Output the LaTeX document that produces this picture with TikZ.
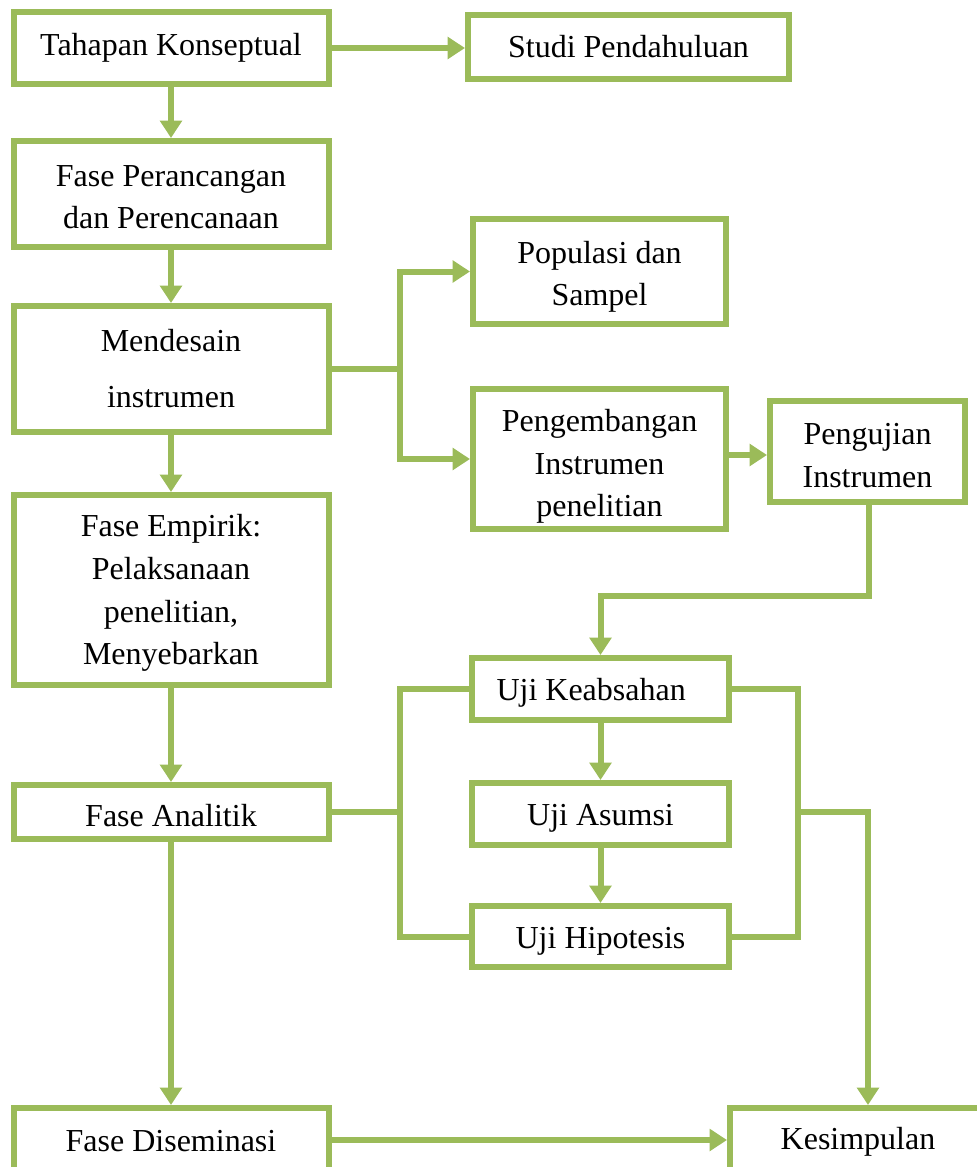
\documentclass[tikz,border=0pt]{standalone}
\usepackage{fontspec}
\setmainfont{Liberation Serif}
\usetikzlibrary{arrows.meta}
\definecolor{leaf}{HTML}{9BBB59}
\begin{document}
\begin{tikzpicture}[x=0.75pt,y=-0.75pt,
  box/.style={draw=leaf, line width=4.5pt, fill=white, inner sep=0pt},
  txt/.style={align=center, inner sep=0pt, font=\fontsize{24}{32}\selectfont, text=black},
  sz/.style 2 args={minimum width=#1*0.75pt, minimum height=#2*0.75pt},
  link/.style={draw=leaf, line width=4.5pt},
  arr/.style={link, -{Triangle[length=13pt,width=16pt]}}]
\useasboundingbox (0,0) rectangle (977,1167);
% left column
\node[box,sz={315}{72}]  (tahap)  at (171,48)    {};
\node[box,sz={315}{106}] (peranc) at (171,194)   {};
\node[box,sz={315}{126}] (mendes) at (171,369)   {};
\node[box,sz={315}{190}] (empir)  at (171,590)   {};
\node[box,sz={315}{54}]  (analit) at (171,812)   {};
\node[box,sz={315}{64}]  (disem)  at (171,1140)  {};
% right part
\node[box,sz={321}{64}]  (studi)  at (628.5,47)  {};
\node[box,sz={253}{105}] (popul)  at (599.5,271.5) {};
\node[box,sz={253}{140}] (pengem) at (599.5,459) {};
\node[box,sz={195}{101}] (penguj) at (867.5,451.5) {};
\node[box,sz={257}{62}]  (keab)   at (600.5,689) {};
\node[box,sz={257}{62}]  (asum)   at (600.5,814) {};
\node[box,sz={257}{61}]  (hipo)   at (600.5,936.5) {};
\node[box,sz={256}{64}]  (kesimp) at (858,1140)  {};
% texts
\node[txt] (tahapT)  at ([yshift=0pt]tahap.center)   {Tahapan Konseptual};
\node[txt] (perancT) at ([yshift=-2.5pt]peranc.center) {Fase Perancangan\\dan Perencanaan};
\node[txt] (mendesT) at ([yshift=0pt]mendes.center)  {Mendesain\\[10pt]instrumen};
\node[txt] (empirT)  at ([yshift=-2.5pt]empir.center) {Fase Empirik:\\Pelaksanaan\\penelitian,\\Menyebarkan};
\node[txt] (analitT) at ([yshift=-2.5pt]analit.center) {Fase Analitik};
\node[txt] (disemT)  at ([yshift=-1pt]disem.center)  {Fase Diseminasi};
\node[txt] (studiT)  at ([yshift=0pt]studi.center)   {Studi Pendahuluan};
\node[txt] (populT)  at ([yshift=-4pt]popul.center)  {Populasi dan\\Sampel};
\node[txt] (pengemT) at ([yshift=-5.5pt]pengem.center) {Pengembangan\\Instrumen\\penelitian};
\node[txt] (pengujT) at ([yshift=-3pt]penguj.center) {Pengujian\\Instrumen};
\node[txt] (keabT)   at ([xshift=-7pt,yshift=-3pt]keab.center) {Uji Keabsahan};
\node[txt] (asumT)   at ([yshift=-3.5pt]asum.center) {Uji Asumsi};
\node[txt] (hipoT)   at ([yshift=-3.5pt]hipo.center) {Uji Hipotesis};
\node[txt] (kesimpT) at ([yshift=-1.5pt]kesimp.center) {Kesimpulan};
% helper points
\coordinate (ba) at (400,369);
\coordinate (pj) at (869,596);
\coordinate (lb) at (400,812);
\coordinate (rb) at (798,812);
\coordinate (rk) at (868,812);
% connectors
\draw[arr] (tahap.east) -- (studi.west |- tahap.east);
\draw[arr] (tahap.south) -- (peranc.north);
\draw[arr] (peranc.south) -- (mendes.north);
\draw[arr] (mendes.south) -- (empir.north);
\draw[arr] (empir.south) -- (analit.north);
\draw[arr] (analit.south) -- (disem.north);
\draw[link] (mendes.east) -- (ba);
\draw[arr] (ba) |- (popul.west);
\draw[arr] (ba) |- (pengem.west);
\draw[arr] (pengem.east |- 0,455) -- (penguj.west |- 0,455);
\draw[arr] (penguj.south -| pj) -- (pj) -| (keab.north);
\draw[arr] (keab.south) -- (asum.north);
\draw[arr] (asum.south) -- (hipo.north);
\draw[link] (analit.east) -- (lb);
\draw[link] (keab.west) -| (lb) |- (hipo.west);
\draw[link] (keab.east) -| (rb) |- (hipo.east);
\draw[arr] (rb) -- (rk) -- (rk |- kesimp.north);
\draw[arr] (disem.east) -- (kesimp.west);
\end{tikzpicture}
\end{document}
